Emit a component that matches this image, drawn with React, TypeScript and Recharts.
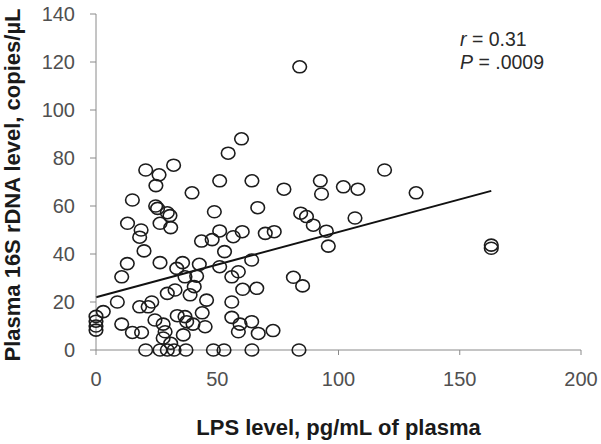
import React from "react";
import {
  ScatterChart,
  Scatter,
  XAxis,
  YAxis,
  ReferenceLine,
  Label,
} from "recharts";

// LPS level (pg/mL) and plasma 16S rDNA level (copies/µL), one entry per subject
const lpsLevel = [
  84, 60, 54.5, 20.5, 26, 32, 51, 64.3, 92.5, 77.5, 39.6, 24.7, 119, 102, 108, 132, 93, 106.8,
  163, 163, 95, 95.8, 15, 24.6, 25.4, 29.4, 30.5, 48.8, 66.7, 84.4, 86.8, 89.6, 13, 18.6, 18,
  19.8, 26.4, 30.8, 43.5, 47.9, 51, 56.6, 60.3, 69.8, 73.5, 53, 64.2, 12.9, 26.4, 35.7, 33.3,
  42.6, 51, 10.6, 36.7, 41.5, 56, 58.7, 81.4, 85.2, 66.3, 60.5, 40.5, 29.4, 32.6, 38.8, 8.8, 3,
  18, 21.5, 23, 45.6, 56, 43.8, 24.3, 27.7, 33.5, 36.7, 37.4, 40, 45, 56, 59.4, 64.2, 58.7,
  66.9, 73, 10.6, 15, 18.8, 28.5, 27.7, 36, 30.8, 20.5, 26.4, 29.4, 32.2, 37.1, 48.4, 52.8,
  64.3, 83.7, 0, 0, 0, 0,
];
const rdnaLevel = [
  118, 88, 82, 75, 73, 77, 70.5, 70.5, 70.5, 67, 65.5, 68.5, 75, 68, 67, 65.5, 65, 55, 43.7,
  42.4, 49.5, 43.3, 62.5, 60, 59, 57.2, 56, 57.6, 59.3, 57, 55.6, 52, 52.8, 50, 47, 41.3, 52.8,
  51, 45.4, 46, 49.6, 47.2, 49.3, 48.6, 49.3, 41, 37.5, 36, 36.4, 36.4, 34, 35.7, 34.7, 30.5,
  30.5, 30.8, 30.5, 32.6, 30.3, 26.7, 25.7, 25.3, 26.4, 23.6, 25, 23, 20, 16, 18, 18, 20, 20.8,
  20, 15.5, 12.5, 10.8, 14.3, 13.9, 11.8, 10.8, 9.7, 13.6, 10.8, 11.8, 7.6, 6.9, 8.1, 10.8, 7.3,
  7.3, 7.6, 5, 6.3, 2.8, 0, 0, 0, 0, 0, 0, 0, 0, 0, 14, 12, 10, 8.3,
];

// fitted regression line end points
const fitX = [0, 163];
const fitY = [22, 66.3];

const xTicks = [0, 50, 100, 150, 200];
const yTicks = [0, 20, 40, 60, 80, 100, 120, 140];

const points = lpsLevel.map((x, i) => ({ x, y: rdnaLevel[i] }));

const FONT = "'Liberation Sans', Arial, sans-serif";
const AXIS = "#8a8a8a";
const TEXT = "#505050";

function OpenCircle(props: { cx?: number; cy?: number }) {
  const { cx, cy } = props;
  if (cx == null || cy == null) return null;
  return <ellipse cx={cx} cy={cy} rx={6.8} ry={6} fill="none" stroke="#1c1c1c" strokeWidth={1.6} />;
}

export default function App() {
  return (
    <div style={{ position: "absolute", left: 0, top: 0, width: 601, height: 444, background: "#fff" }}>
      <ScatterChart width={601} height={444} margin={{ top: 14, right: 20, bottom: 0, left: 0 }}>
        <XAxis
          type="number"
          dataKey="x"
          domain={[0, 200]}
          ticks={xTicks}
          stroke={AXIS}
          tickSize={5}
          tickMargin={17}
          height={94}
          tick={{ fill: TEXT, fontSize: 20, fontFamily: FONT }}
        >
          <Label
            value="LPS level, pg/mL of plasma"
            position="insideBottom"
            offset={9}
            style={{ fill: "#1a1a1a", fontSize: 22, fontWeight: 700, fontFamily: FONT }}
          />
        </XAxis>
        <YAxis
          type="number"
          dataKey="y"
          domain={[0, 140]}
          ticks={yTicks}
          stroke={AXIS}
          tickSize={6}
          tickMargin={15}
          width={96}
          tick={{ fill: TEXT, fontSize: 20, fontFamily: FONT }}
        />
        <ReferenceLine
          segment={[
            { x: fitX[0], y: fitY[0] },
            { x: fitX[1], y: fitY[1] },
          ]}
          stroke="#111"
          strokeWidth={2}
        />
        <Scatter data={points} shape={<OpenCircle />} isAnimationActive={false} />
      </ScatterChart>
      <div
        style={{
          position: "absolute",
          left: 460,
          top: 28,
          fontFamily: FONT,
          fontSize: 19.5,
          lineHeight: "23px",
          color: "#2a2a2a",
        }}
      >
        <div>
          <i>r</i> = 0.31
        </div>
        <div>
          <i>P</i> = .0009
        </div>
      </div>
      <div
        style={{
          position: "absolute",
          left: 13,
          top: 185,
          transform: "translate(-50%, -50%) rotate(-90deg)",
          whiteSpace: "nowrap",
          fontFamily: FONT,
          fontWeight: 700,
          fontSize: 22,
          color: "#1a1a1a",
        }}
      >
        Plasma 16S rDNA level, copies/µL
      </div>
    </div>
  );
}
